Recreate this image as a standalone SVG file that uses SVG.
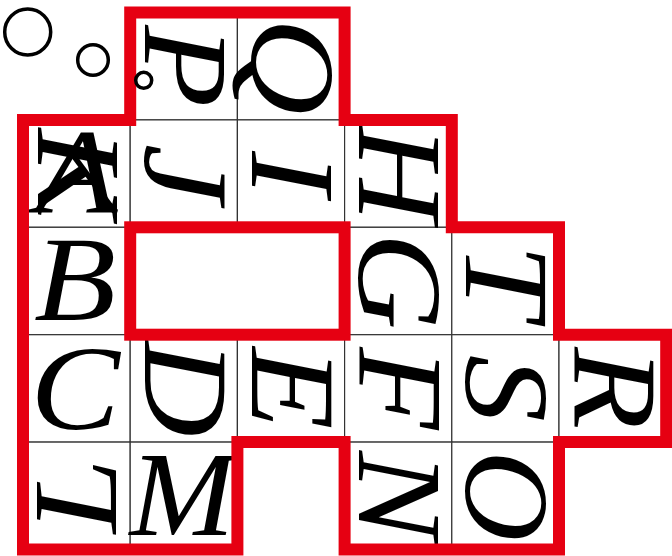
<svg xmlns="http://www.w3.org/2000/svg" width="672" height="556" viewBox="0 0 672 556">
<style>
.cell{fill:#fff;stroke:#333;stroke-width:1.2}
.lt{font-family:"Liberation Serif","Times New Roman",serif;font-style:italic;font-size:120px;text-anchor:middle;fill:#000}
.red{fill:none;stroke:#e60012;stroke-width:12;stroke-linejoin:miter}
.bub{fill:none;stroke:#000;stroke-width:3.5}
</style>
<rect width="672" height="556" fill="#fff"/>
<g id="cells">
<rect class="cell" x="130.2" y="12.5" width="107.2" height="107.4"/>
<rect class="cell" x="237.4" y="12.5" width="107.2" height="107.4"/>
<rect class="cell" x="23" y="119.9" width="107.2" height="107.4"/>
<rect class="cell" x="130.2" y="119.9" width="107.2" height="107.4"/>
<rect class="cell" x="237.4" y="119.9" width="107.2" height="107.4"/>
<rect class="cell" x="344.6" y="119.9" width="107.2" height="107.4"/>
<rect class="cell" x="23" y="227.3" width="107.2" height="107.4"/>
<rect class="cell" x="344.6" y="227.3" width="107.2" height="107.4"/>
<rect class="cell" x="451.8" y="227.3" width="107.2" height="107.4"/>
<rect class="cell" x="23" y="334.7" width="107.2" height="107.4"/>
<rect class="cell" x="130.2" y="334.7" width="107.2" height="107.4"/>
<rect class="cell" x="237.4" y="334.7" width="107.2" height="107.4"/>
<rect class="cell" x="344.6" y="334.7" width="107.2" height="107.4"/>
<rect class="cell" x="451.8" y="334.7" width="107.2" height="107.4"/>
<rect class="cell" x="559" y="334.7" width="107.2" height="107.4"/>
<rect class="cell" x="23" y="442.1" width="107.2" height="107.4"/>
<rect class="cell" x="130.2" y="442.1" width="107.2" height="107.4"/>
<rect class="cell" x="344.6" y="442.1" width="107.2" height="107.4"/>
<rect class="cell" x="451.8" y="442.1" width="107.2" height="107.4"/>
</g>
<g id="node-P"><text class="lt" transform="translate(183.8,66.2) rotate(90) scale(1.12,1)" y="39">P</text></g>
<g id="node-Q"><text class="lt" transform="translate(291,66.2) rotate(90) scale(1.12,1)" y="39">Q</text></g>
<g id="node-A"><text class="lt" transform="translate(76.6,173.6) scale(1.12,1)" y="39">A</text></g>
<g id="node-K"><text class="lt" transform="translate(76.6,173.6) rotate(90) scale(1.12,1)" y="39">K</text></g>
<g id="node-J"><text class="lt" transform="translate(183.8,173.6) rotate(90) scale(1.12,1)" y="39">J</text></g>
<g id="node-I"><text class="lt" transform="translate(291,173.6) rotate(90) scale(1.12,1)" y="39">I</text></g>
<g id="node-H"><text class="lt" transform="translate(398.2,173.6) rotate(90) scale(1.12,1)" y="39">H</text></g>
<g id="node-B"><text class="lt" transform="translate(75,281) scale(1.12,1)" y="39">B</text></g>
<g id="node-G"><text class="lt" transform="translate(398.2,281) rotate(90) scale(1.12,1)" y="39">G</text></g>
<g id="node-T"><text class="lt" transform="translate(505.4,281) rotate(90) scale(1.12,1)" y="39">T</text></g>
<g id="node-C"><text class="lt" transform="translate(75,390) scale(1.12,1)" y="39">C</text></g>
<g id="node-D"><text class="lt" transform="translate(183.8,388.4) rotate(90) scale(1.12,1)" y="39">D</text></g>
<g id="node-E"><text class="lt" transform="translate(291,388.4) rotate(90) scale(1.12,1)" y="39">E</text></g>
<g id="node-F"><text class="lt" transform="translate(398.2,388.4) rotate(90) scale(1.12,1)" y="39">F</text></g>
<g id="node-S"><text class="lt" transform="translate(505.4,388.4) rotate(90) scale(1.12,1)" y="39">S</text></g>
<g id="node-R"><text class="lt" transform="translate(612.6,388.4) rotate(90) scale(1.12,1)" y="39">R</text></g>
<g id="node-L"><text class="lt" transform="translate(76.6,495.8) rotate(-90) scale(1.12,1)" y="39">L</text></g>
<g id="node-M"><text class="lt" transform="translate(182,495.8) scale(1.05,1)" y="39">M</text></g>
<g id="node-N"><text class="lt" transform="translate(398.2,495.8) rotate(90) scale(1.12,1)" y="39">N</text></g>
<g id="node-O"><text class="lt" transform="translate(505.4,495.8) rotate(90) scale(1.05,1)" y="39">O</text></g>
<g id="connectors">
<path class="red" d="M130.2,12.5 H344.6 V119.9 H451.8 V227.3 H559 V334.7 H666.2 V442.1 H559 V549.5 H344.6 V442.1 H237.4 V549.5 H23 V119.9 H130.2 Z"/>
<rect class="red" x="130.2" y="227.3" width="214.4" height="107.4"/>
</g>
<g id="bubbles">
<circle class="bub" cx="27.7" cy="32" r="23"/>
<circle class="bub" cx="93" cy="60" r="15.3"/>
<circle class="bub" cx="143.7" cy="80.3" r="8"/>
</g>
</svg>
